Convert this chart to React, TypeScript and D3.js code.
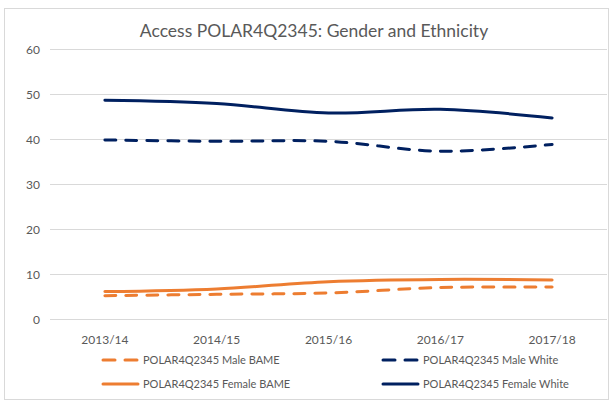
import React from "react";
import * as d3 from "d3";

const categories = ["2013/14", "2014/15", "2015/16", "2016/17", "2017/18"];
const maleBAME = [5.3, 5.6, 5.9, 7.1, 7.2];
const femaleBAME = [6.2, 6.8, 8.4, 8.9, 8.8];
const maleWhite = [39.9, 39.6, 39.6, 37.4, 38.9];
const femaleWhite = [48.7, 48.0, 45.9, 46.7, 44.8];
const yTicks = [0, 10, 20, 30, 40, 50, 60];
const title = "Access POLAR4Q2345: Gender and Ethnicity";

const ORANGE = "#ED7D31";
const NAVY = "#002060";
const FONT = "Lato, 'Open Sans', sans-serif";

const series = [
  { name: "POLAR4Q2345 Male BAME", values: maleBAME, color: ORANGE, dashed: true },
  { name: "POLAR4Q2345 Male White", values: maleWhite, color: NAVY, dashed: true },
  { name: "POLAR4Q2345 Female BAME", values: femaleBAME, color: ORANGE, dashed: false },
  { name: "POLAR4Q2345 Female White", values: femaleWhite, color: NAVY, dashed: false },
];

export default function App() {
  const W = 610, H = 401;
  const x = d3.scaleBand<string>().domain(categories).range([49, 608]);
  const y = d3.scaleLinear().domain([0, 60]).range([319.5, 49.5]);
  const cx = (c: string) => (x(c) as number) + x.bandwidth() / 2;
  const line = d3
    .line<number>()
    .x((_, i) => cx(categories[i]))
    .y((v) => y(v))
    .curve(d3.curveCatmullRom.alpha(0));

  const legendPos = [
    { lx: 103, ly: 360 },
    { lx: 383, ly: 360 },
    { lx: 103, ly: 384 },
    { lx: 383, ly: 384 },
  ];

  return (
    <svg width={W} height={H} style={{ position: "absolute", left: 0, top: 0 }} fontFamily={FONT}>
      <rect x={0} y={0} width={W} height={H} fill="#fff" />
      <rect x={4.5} y={8.5} width={604} height={391} fill="#fff" stroke="#d9d9d9" />
      <text x={314} y={37} textAnchor="middle" fontSize={17.5} fill="#595959">
        {title}
      </text>
      {yTicks.map((t) => (
        <g key={t}>
          <line x1={50} x2={607} y1={y(t)} y2={y(t)} stroke="#d9d9d9" strokeWidth={1} />
          <text x={40} y={y(t) + 4} textAnchor="end" fontSize={12} fill="#595959">
            {t}
          </text>
        </g>
      ))}
      {categories.map((c) => (
        <text key={c} x={cx(c)} y={344} textAnchor="middle" fontSize={12} fill="#595959">
          {c}
        </text>
      ))}
      {series.map((s) => (
        <path
          key={s.name}
          d={line(s.values) || ""}
          fill="none"
          stroke={s.color}
          strokeWidth={3}
          strokeDasharray={s.dashed ? "11,10" : undefined}
          strokeLinecap="round"
        />
      ))}
      {series.map((s, i) => (
        <g key={"lg" + s.name}>
          <line
            x1={legendPos[i].lx}
            x2={legendPos[i].lx + 35}
            y1={legendPos[i].ly}
            y2={legendPos[i].ly}
            stroke={s.color}
            strokeWidth={3}
            strokeDasharray={s.dashed ? "12,10" : undefined}
            strokeLinecap="round"
          />
          <text x={legendPos[i].lx + 40} y={legendPos[i].ly + 4} fontSize={11} fill="#595959">
            {s.name}
          </text>
        </g>
      ))}
    </svg>
  );
}
